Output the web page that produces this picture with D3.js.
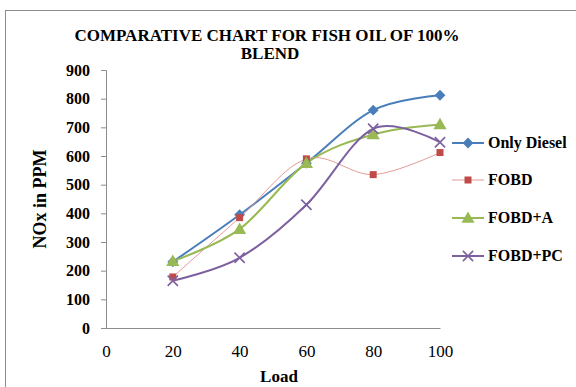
<!DOCTYPE html>
<html>
<head>
<meta charset="utf-8">
<script src="https://cdn.jsdelivr.net/npm/d3@7"></script>
<style>
  body { margin: 0; background: #fff; }
  text { font-family: "Liberation Serif", "Times New Roman", serif; }
</style>
</head>
<body>
<div id="chart"></div>
<script>
// Data
var loads = [20, 40, 60, 80, 100];
var onlyDiesel = [231, 395, 575, 760, 812];
var fobd = [178, 385, 590, 535, 612];
var fobdA = [233, 345, 575, 675, 710];
var fobdPC = [165, 245, 430, 695, 648];
var seriesNames = ["Only Diesel", "FOBD", "FOBD+A", "FOBD+PC"];
var xTicks = [0, 20, 40, 60, 80, 100];
var yTicks = [0, 100, 200, 300, 400, 500, 600, 700, 800, 900];

var W = 576, H = 387;

var series = [
  {name: seriesNames[0], values: onlyDiesel, color: "#4a7ebb", width: 2, marker: "diamond"},
  {name: seriesNames[1], values: fobd, color: "#e39a98", width: 1, marker: "square", mcolor: "#be4b48"},
  {name: seriesNames[2], values: fobdA, color: "#98b954", width: 2, marker: "triangle"},
  {name: seriesNames[3], values: fobdPC, color: "#7d60a0", width: 2, marker: "cross"}
];

var svg = d3.select("#chart").append("svg")
  .attr("width", W).attr("height", H);

// chart frame
svg.append("rect")
  .attr("x", 5.5).attr("y", 10.5)
  .attr("width", W + 20).attr("height", H + 20)
  .attr("fill", "none").attr("stroke", "#8c8c8c").attr("stroke-width", 1);

var x = d3.scaleLinear().domain([0, 100]).range([106, 440]);
var y = d3.scaleLinear().domain([0, 900]).range([328, 70]);

// title
svg.append("text").attr("x", 267).attr("y", 41)
  .attr("text-anchor", "middle").style("font-size", "17px").style("font-weight", "bold")
  .text("COMPARATIVE CHART FOR FISH OIL OF 100%");
svg.append("text").attr("x", 270).attr("y", 59)
  .attr("text-anchor", "middle").style("font-size", "17px").style("font-weight", "bold")
  .text("BLEND");

// y axis
var yAxis = d3.axisLeft(y).tickValues(yTicks).tickSize(5).tickPadding(11);
var gy = svg.append("g").attr("transform", "translate(" + x(0) + ",0)").call(yAxis);
gy.select(".domain").attr("stroke", "#8c8c8c");
gy.selectAll(".tick line").attr("stroke", "#8c8c8c");
gy.selectAll(".tick text")
  .style("font-family", "Liberation Serif, serif")
  .style("font-size", "16px").style("font-weight", "bold").attr("fill", "#000");

// x axis (no ticks)
var xAxis = d3.axisBottom(x).tickValues(xTicks).tickSize(0).tickPadding(17);
var gx = svg.append("g").attr("transform", "translate(0," + y(0) + ")").call(xAxis);
gx.select(".domain").attr("stroke", "#8c8c8c");
gx.selectAll(".tick text")
  .style("font-family", "Liberation Serif, serif")
  .style("font-size", "17px").attr("fill", "#000");

// axis titles
svg.append("text").attr("transform", "translate(46,199) rotate(-90)")
  .attr("text-anchor", "middle").style("font-size", "18px").style("font-weight", "bold")
  .text("NOx in PPM");
svg.append("text").attr("x", 279).attr("y", 382)
  .attr("text-anchor", "middle").style("font-size", "17px").style("font-weight", "bold")
  .text("Load");

// lines
var line = d3.line()
  .x(function(d, i) { return x(loads[i]); })
  .y(function(d) { return y(d); })
  .curve(d3.curveCatmullRom.alpha(0));

svg.selectAll(".series")
  .data(series).enter()
  .append("path")
    .attr("class", "series")
    .attr("d", function(s) { return line(s.values); })
    .attr("fill", "none")
    .attr("stroke", function(s) { return s.color; })
    .attr("stroke-width", function(s) { return s.width; });

function drawMarker(g, s, cx, cy) {
  var c = s.mcolor || s.color;
  if (s.marker === "diamond") {
    g.append("path").attr("d", d3.symbol(d3.symbolDiamond2, 75)())
      .attr("transform", "translate(" + cx + "," + cy + ")").attr("fill", c);
  } else if (s.marker === "square") {
    g.append("rect").attr("x", cx - 3.5).attr("y", cy - 3.5)
      .attr("width", 7).attr("height", 7).attr("fill", c);
  } else if (s.marker === "triangle") {
    g.append("path").attr("d", d3.symbol(d3.symbolTriangle, 75)())
      .attr("transform", "translate(" + cx + "," + (cy + 1) + ")").attr("fill", c);
  } else {
    g.append("path").attr("d", d3.symbol(d3.symbolX, 70)())
      .attr("transform", "translate(" + cx + "," + cy + ")")
      .attr("fill", "none").attr("stroke", c).attr("stroke-width", 1.6);
  }
}

// markers
series.forEach(function(s) {
  var g = svg.append("g");
  s.values.forEach(function(v, i) { drawMarker(g, s, x(loads[i]), y(v)); });
});

// legend
var legendY = [143, 180, 218, 256];
series.forEach(function(s, i) {
  var g = svg.append("g");
  g.append("line").attr("x1", 452).attr("x2", 484)
    .attr("y1", legendY[i]).attr("y2", legendY[i])
    .attr("stroke", s.color).attr("stroke-width", s.width);
  drawMarker(g, s, 468, legendY[i]);
  g.append("text").attr("x", 488).attr("y", legendY[i] + 5)
    .style("font-size", "16px").style("font-weight", "bold")
    .text(s.name);
});
</script>
</body>
</html>
